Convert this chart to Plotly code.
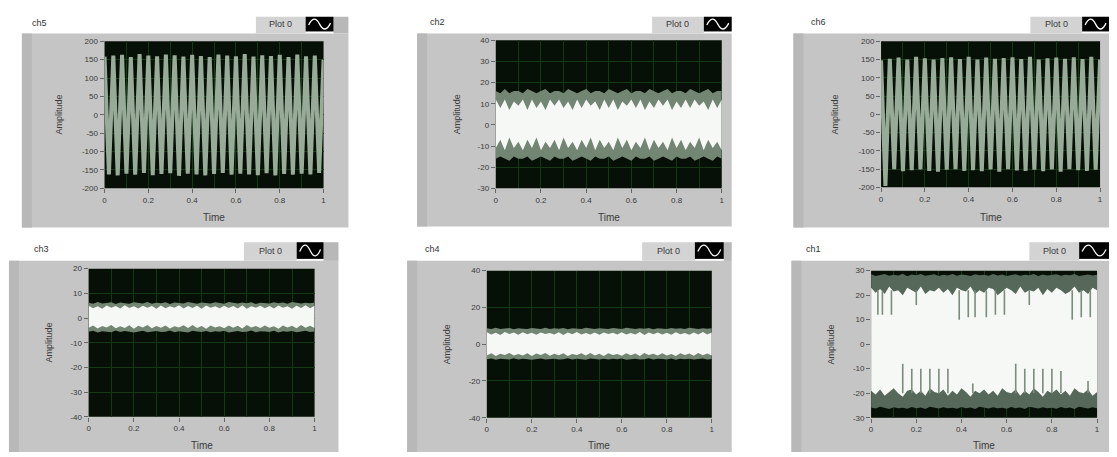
import numpy as np
import plotly.graph_objects as go

W, H = 1117, 457

# ---------------- data ----------------
PANEL_TITLES = ["ch5", "ch2", "ch6", "ch3", "ch4", "ch1"]
LEGEND_LABEL = "Plot 0"
X_TITLE = "Time"
Y_TITLE = "Amplitude"
TIME_TICKS = [0, 0.2, 0.4, 0.6, 0.8, 1]
TIME_TICK_LABELS = ["0", "0.2", "0.4", "0.6", "0.8", "1"]
TIME_MINOR = [0.1, 0.3, 0.5, 0.7, 0.9]

Y_TICKS_CH5 = [-200, -150, -100, -50, 0, 50, 100, 150, 200]
Y_TICKS_CH2 = [-30, -20, -10, 0, 10, 20, 30, 40]
Y_TICKS_CH6 = [-200, -150, -100, -50, 0, 50, 100, 150, 200]
Y_TICKS_CH3 = [-40, -30, -20, -10, 0, 10, 20]
Y_TICKS_CH4 = [-40, -20, 0, 20, 40]
Y_TICKS_CH1 = [-30, -20, -10, 0, 10, 20, 30]

# sample times of the read-off points (every 0.02 s)
T = [round(0.02 * i, 2) for i in range(51)]

# ch5 / ch6: successive peaks and troughs of the waveform
ch5_amp = [158, -162, 161, -165, 163, -160, 157, -163, 165, -158,
           161, -164, 159, -161, 164, -159, 162, -166, 158, -160,
           163, -162, 160, -165, 157, -161, 164, -158, 161, -163,
           159, -160, 165, -162, 158, -164, 162, -159, 160, -165,
           163, -161, 157, -163, 164, -160, 159, -162, 161, -158,
           150]
ch6_amp = [148, -196, 152, -150, 155, -156, 150, -153, 157, -151,
           153, -155, 150, -157, 154, -152, 156, -150, 151, -155,
           157, -153, 150, -156, 155, -151, 152, -157, 154, -150,
           156, -154, 151, -155, 157, -152, 150, -156, 153, -151,
           155, -157, 152, -150, 156, -153, 151, -155, 157, -152,
           150]

# ch2: dense band – white core edges and grey fringe edges
ch2_white_hi = [12, 8, 12, 7, 11, 9, 12, 7, 12, 8,
                11, 7, 12, 9, 12, 8, 11, 7, 12, 8,
                12, 9, 11, 7, 12, 8, 12, 7, 11, 9,
                12, 8, 12, 7, 11, 8, 12, 9, 12, 7,
                11, 8, 12, 8, 12, 9, 11, 7, 12, 8,
                12]
ch2_white_lo = [-11, -7, -12, -6, -11, -8, -12, -7, -11, -6,
                -12, -8, -11, -7, -12, -6, -11, -8, -12, -7,
                -11, -6, -12, -7, -11, -8, -12, -6, -11, -7,
                -12, -8, -11, -6, -12, -7, -11, -8, -12, -6,
                -11, -7, -12, -8, -11, -6, -12, -7, -11, -8,
                -12]
ch2_fringe_hi = [16, 15, 17, 15, 16, 16, 15, 17, 16, 15,
                 16, 17, 15, 16, 16, 15, 17, 16, 15, 16,
                 17, 15, 16, 16, 15, 17, 16, 15, 16, 17,
                 15, 16, 16, 15, 17, 16, 15, 16, 17, 15,
                 16, 16, 15, 17, 16, 15, 16, 17, 15, 16,
                 16]
ch2_fringe_lo = [-16, -15, -16, -17, -15, -16, -16, -15, -17, -16,
                 -15, -16, -17, -15, -16, -16, -15, -17, -16, -15,
                 -16, -17, -15, -16, -16, -15, -17, -16, -15, -16,
                 -17, -15, -16, -16, -15, -17, -16, -15, -16, -17,
                 -15, -16, -16, -15, -17, -16, -15, -16, -17, -15,
                 -16]

# ch3
ch3_white_hi = [5.0, 4.0, 4.8, 3.8, 5.1, 4.2, 4.9, 3.9, 5.2, 4.1,
                4.8, 3.9, 5.0, 4.2, 4.9, 3.8, 5.1, 4.0, 4.8, 4.2,
                5.2, 3.9, 4.9, 4.1, 5.0, 3.8, 5.1, 4.2, 4.8, 4.0,
                5.0, 4.1, 4.9, 3.9, 5.2, 3.8, 4.8, 4.2, 5.0, 4.0,
                4.9, 3.9, 5.1, 4.2, 4.8, 3.8, 5.0, 4.1, 5.2, 4.0,
                5.0]
ch3_white_lo = [-3.9, -3.0, -4.2, -3.2, -3.8, -2.8, -4.1, -3.3, -4.0, -2.9,
                -4.3, -3.1, -3.8, -2.8, -4.1, -3.2, -3.9, -3.0, -4.2, -3.3,
                -3.8, -2.9, -4.0, -2.8, -4.0, -3.2, -4.3, -3.0, -3.8, -3.3,
                -4.1, -3.0, -3.9, -3.1, -4.2, -2.8, -3.8, -3.2, -4.0, -3.0,
                -3.9, -3.3, -4.3, -3.0, -3.8, -3.1, -4.1, -2.8, -3.9, -3.1,
                -4.0]
ch3_fringe_hi = [6.2, 5.8, 6.5, 5.9, 6.1, 6.4, 5.7, 6.3, 6.0, 5.8,
                 6.4, 6.1, 5.9, 6.5, 5.8, 6.2, 6.0, 6.4, 5.7, 6.3,
                 6.1, 5.9, 6.5, 6.0, 5.8, 6.3, 6.2, 5.9, 6.4, 6.0,
                 5.8, 6.5, 6.1, 5.9, 6.3, 6.0, 6.4, 5.7, 6.2, 6.1,
                 5.9, 6.4, 6.0, 6.3, 5.8, 6.5, 6.1, 5.9, 6.2, 6.0,
                 6.3]
ch3_fringe_lo = [-5.6, -5.2, -5.9, -5.4, -5.5, -5.8, -5.1, -5.7, -5.3, -5.6,
                 -5.9, -5.4, -5.2, -5.8, -5.5, -5.3, -5.7, -5.6, -5.1, -5.8,
                 -5.4, -5.6, -5.9, -5.2, -5.5, -5.7, -5.3, -5.8, -5.4, -5.6,
                 -5.2, -5.9, -5.5, -5.3, -5.7, -5.6, -5.1, -5.8, -5.4, -5.5,
                 -5.7, -5.2, -5.9, -5.4, -5.6, -5.3, -5.8, -5.5, -5.2, -5.7,
                 -5.5]

# ch4
ch4_white_hi = [6.5, 5.3, 6.2, 5.0, 6.6, 5.5, 6.3, 5.1, 6.5, 5.4,
                6.2, 5.1, 6.4, 5.5, 6.1, 5.2, 6.5, 5.0, 6.3, 5.4,
                6.6, 5.2, 6.1, 5.3, 6.4, 5.1, 6.3, 5.5, 6.2, 5.2,
                6.5, 5.3, 6.1, 5.2, 6.6, 5.0, 6.3, 5.4, 6.4, 5.3,
                6.2, 5.1, 6.5, 5.4, 6.1, 5.1, 6.3, 5.3, 6.6, 5.2,
                6.4]
ch4_white_lo = [-6.1, -5.0, -6.4, -5.2, -5.9, -4.8, -6.2, -5.3, -6.1, -4.9,
                -6.5, -5.1, -5.9, -4.8, -6.3, -5.2, -6.0, -5.0, -6.4, -5.3,
                -5.9, -5.0, -6.2, -4.8, -6.1, -5.2, -6.5, -4.9, -5.9, -5.3,
                -6.3, -5.0, -6.0, -5.1, -6.4, -4.8, -5.9, -5.2, -6.2, -5.0,
                -6.1, -5.3, -6.5, -5.0, -5.9, -5.1, -6.3, -4.8, -6.0, -5.1,
                -6.2]
ch4_fringe_hi = [8.6, 8.2, 8.9, 8.3, 8.5, 8.8, 8.1, 8.7, 8.4, 8.2,
                 8.8, 8.5, 8.3, 8.9, 8.2, 8.6, 8.4, 8.8, 8.1, 8.7,
                 8.5, 8.3, 8.9, 8.4, 8.2, 8.7, 8.6, 8.3, 8.8, 8.4,
                 8.2, 8.9, 8.5, 8.3, 8.7, 8.4, 8.8, 8.1, 8.6, 8.5,
                 8.3, 8.8, 8.4, 8.7, 8.2, 8.9, 8.5, 8.3, 8.6, 8.4,
                 8.7]
ch4_fringe_lo = [-8.2, -7.8, -8.5, -8.0, -8.1, -8.4, -7.7, -8.3, -7.9, -8.2,
                 -8.5, -8.0, -7.8, -8.4, -8.1, -7.9, -8.3, -8.2, -7.7, -8.4,
                 -8.0, -8.2, -8.5, -7.8, -8.1, -8.3, -7.9, -8.4, -8.0, -8.2,
                 -7.8, -8.5, -8.1, -7.9, -8.3, -8.2, -7.7, -8.4, -8.0, -8.1,
                 -8.3, -7.8, -8.5, -8.0, -8.2, -7.9, -8.4, -8.1, -7.8, -8.3,
                 -8.1]

# ch1: outer noisy bands, white core, isolated spikes
ch1_outer_hi = [28.5, 27.8, 28.2, 28.6, 27.9, 28.3, 28.0, 28.7, 27.7, 28.4,
                28.1, 28.6, 27.9, 28.2, 28.5, 27.8, 28.3, 28.0, 28.6, 27.9,
                28.4, 28.2, 27.8, 28.5, 28.1, 28.3, 27.9, 28.6, 28.0, 28.4,
                27.8, 28.2, 28.5, 27.9, 28.3, 28.1, 28.6, 27.8, 28.4, 28.0,
                28.2, 28.5, 27.9, 28.3, 28.1, 28.6, 27.8, 28.2, 28.4, 28.0,
                28.3]
ch1_white_hi = [23, 21, 22.5, 20.5, 23.5, 21.5, 22, 20, 23, 22,
                21, 23.5, 20.5, 22, 21.5, 23, 21, 22.5, 20, 23,
                22, 21.5, 23.5, 20.5, 22, 21, 23, 22.5, 20, 21.5,
                23, 22, 20.5, 23.5, 21, 22, 21.5, 23, 20, 22.5,
                21, 23, 22, 20.5, 21.5, 23.5, 21, 22, 20.5, 23,
                22]
ch1_white_lo = [-19, -20.5, -18.5, -21, -19.5, -18, -20, -21.5, -19, -18.5,
                -20.5, -19, -21, -18, -19.5, -20, -18.5, -21, -19, -20.5,
                -18, -19.5, -21.5, -19, -20, -18.5, -20.5, -19, -21, -18,
                -19.5, -20, -18.5, -21, -19, -20.5, -18, -19.5, -21.5, -19,
                -20, -18.5, -20.5, -19, -21, -18, -19.5, -20, -18.5, -21,
                -19.5]
ch1_outer_lo = [-25.8, -26.3, -25.5, -26.0, -26.5, -25.7, -26.2, -25.9, -26.4, -25.6,
                -26.1, -25.8, -26.5, -25.5, -26.0, -26.3, -25.7, -26.2, -25.9, -26.4,
                -25.6, -26.1, -25.8, -26.5, -25.5, -26.0, -26.3, -25.7, -26.2, -25.9,
                -26.4, -25.6, -26.1, -25.8, -26.5, -25.5, -26.0, -26.3, -25.7, -26.2,
                -25.9, -26.4, -25.6, -26.1, -25.8, -26.5, -25.5, -26.0, -26.3, -25.7,
                -26.1]
ch1_spike_dn_t = [0.03, 0.05, 0.09, 0.20, 0.39, 0.43, 0.46, 0.51, 0.55, 0.59, 0.70, 0.89, 0.93, 0.97]
ch1_spike_dn_tip = [12, 12, 12, 16, 10, 11, 11, 11, 12, 12, 16, 10, 11, 11]
ch1_spike_up_t = [0.14, 0.18, 0.22, 0.26, 0.30, 0.34, 0.45, 0.64, 0.68, 0.72, 0.76, 0.80, 0.84, 0.96]
ch1_spike_up_tip = [-8, -10, -10, -10, -10, -10, -16, -8, -10, -10, -10, -10, -11, -15]

for arr in [ch5_amp, ch6_amp, ch2_white_hi, ch2_white_lo, ch2_fringe_hi, ch2_fringe_lo,
            ch3_white_hi, ch3_white_lo, ch3_fringe_hi, ch3_fringe_lo,
            ch4_white_hi, ch4_white_lo, ch4_fringe_hi, ch4_fringe_lo,
            ch1_outer_hi, ch1_white_hi, ch1_white_lo, ch1_outer_lo]:
    assert len(arr) == len(T)

# ---------------- layout geometry (pixels) ----------------
PANELS = [
    dict(frame=(20, 30, 348, 228), plot=(103, 38, 323, 188), title=(28, 19), legend=(255, 305, 333, 13, 28), amp_x=57, time_y=218, yt=Y_TICKS_CH5),
    dict(frame=(417, 30, 733, 227), plot=(496, 37, 723, 188), title=(428, 18), legend=(653, 705, 733, 13, 28), amp_x=457, time_y=218, yt=Y_TICKS_CH2),
    dict(frame=(795, 30, 1112, 228), plot=(883, 38, 1103, 187), title=(811, 18), legend=(1033, 1085, 1112, 13, 28), amp_x=837, time_y=218, yt=Y_TICKS_CH6),
    dict(frame=(7, 262, 338, 457), plot=(87, 270, 314, 421), title=(30, 250), legend=(243, 296, 323, 243, 260), amp_x=47, time_y=450, yt=Y_TICKS_CH3),
    dict(frame=(407, 262, 733, 457), plot=(487, 272, 713, 422), title=(423, 250), legend=(643, 696, 725, 243, 260), amp_x=447, time_y=450, yt=Y_TICKS_CH4),
    dict(frame=(793, 262, 1112, 457), plot=(873, 272, 1100, 422), title=(806, 250), legend=(1032, 1082, 1112, 243, 260), amp_x=833, time_y=450, yt=Y_TICKS_CH1),
]

FRAME = "#c5c5c5"
FRAME_DARK = "#b8b8b8"
LEG_BOX = "#d3d3d3"
PLOT_BG = "#061006"
GRID = "#153815"
LINE_LIGHT = "#98ab98"
FRINGE = "#738573"
CORE = "#f6f8f6"
TEXT = "#3a3a3a"
FONT = "Liberation Sans"


def X(px):
    return px / W


def Y(py):
    return 1 - py / H


fig = go.Figure()


def ax(k):
    return dict(xaxis="x" if k == 1 else f"x{k}", yaxis="y" if k == 1 else f"y{k}")


def band(k, hi, lo, color):
    fig.add_trace(go.Scatter(x=list(T) + list(T[::-1]), y=list(hi) + list(lo[::-1]),
                             fill="toself", fillcolor=color, mode="lines",
                             line=dict(width=0, color=color), hoverinfo="skip",
                             showlegend=False, **ax(k)))


def wave(k, vals, color, width):
    fig.add_trace(go.Scatter(x=T, y=vals, mode="lines", line=dict(color=color, width=width),
                             hoverinfo="skip", showlegend=False, **ax(k)))


def spikes(k, ts, base, tips, color):
    xs, ys = [], []
    for t, tip in zip(ts, tips):
        xs += [t, t, None]
        ys += [base, tip, None]
    fig.add_trace(go.Scatter(x=xs, y=ys, mode="lines", line=dict(color=color, width=1.6),
                             hoverinfo="skip", showlegend=False, **ax(k)))


# panel 1: ch5
wave(1, ch5_amp, LINE_LIGHT, 4.0)
# panel 2: ch2
band(2, ch2_fringe_hi, ch2_fringe_lo, FRINGE)
band(2, ch2_white_hi, ch2_white_lo, CORE)
# panel 3: ch6
wave(3, ch6_amp, LINE_LIGHT, 4.0)
# panel 4: ch3
band(4, ch3_fringe_hi, ch3_fringe_lo, FRINGE)
band(4, ch3_white_hi, ch3_white_lo, CORE)
# panel 5: ch4
band(5, ch4_fringe_hi, ch4_fringe_lo, FRINGE)
band(5, ch4_white_hi, ch4_white_lo, CORE)
# panel 6: ch1
band(6, ch1_outer_hi, ch1_outer_lo, "#56685a")
band(6, ch1_white_hi, ch1_white_lo, CORE)
spikes(6, ch1_spike_dn_t, 22, ch1_spike_dn_tip, "#7a8c7a")
spikes(6, ch1_spike_up_t, -20, ch1_spike_up_tip, "#7a8c7a")

shapes = []
annotations = []
layout_axes = {}
for i, p in enumerate(PANELS):
    k = i + 1
    fx0, fy0, fx1, fy1 = p["frame"]
    px0, py0, px1, py1 = p["plot"]
    lx0, lx1, lx2, ly0, ly1 = p["legend"]
    # frame
    shapes.append(dict(type="rect", xref="paper", yref="paper", x0=X(fx0), x1=X(fx1), y0=Y(fy1), y1=Y(fy0),
                       fillcolor=FRAME, line=dict(width=0), layer="below"))
    shapes.append(dict(type="rect", xref="paper", yref="paper", x0=X(fx0), x1=X(fx0 + 10), y0=Y(fy1), y1=Y(fy0),
                       fillcolor=FRAME_DARK, line=dict(width=0), layer="below"))
    # strip right of legend
    shapes.append(dict(type="rect", xref="paper", yref="paper", x0=X(lx2), x1=X(fx1), y0=Y(fy0), y1=Y(ly0),
                       fillcolor=FRAME_DARK, line=dict(width=0), layer="below"))
    # plot area background (drawn after the frame)
    shapes.append(dict(type="rect", xref="paper", yref="paper", x0=X(px0), x1=X(px1), y0=Y(py1), y1=Y(py0),
                       fillcolor=PLOT_BG, line=dict(width=0), layer="below"))
    # legend label box and icon
    shapes.append(dict(type="rect", xref="paper", yref="paper", x0=X(lx0), x1=X(lx1), y0=Y(fy0), y1=Y(ly0),
                       fillcolor=LEG_BOX, line=dict(width=0), layer="below"))
    shapes.append(dict(type="rect", xref="paper", yref="paper", x0=X(lx1), x1=X(lx2), y0=Y(ly1), y1=Y(ly0),
                       fillcolor="#000000", line=dict(width=0), layer="above"))
    ym = (ly0 + ly1) / 2
    a = lx1 + 3
    b = lx2 - 3
    q = (b - a) / 4
    path = (f"M {X(a)},{Y(ym + 1)} Q {X(a + q)},{Y(ly0 - 3)} {X(a + 2 * q)},{Y(ym)} "
            f"Q {X(a + 3 * q)},{Y(ly1 + 3)} {X(b)},{Y(ym - 1)}")
    shapes.append(dict(type="path", xref="paper", yref="paper", path=path,
                       line=dict(color="#ffffff", width=1.3), layer="above"))
    annotations.append(dict(text=LEGEND_LABEL, x=X((lx0 + lx1) / 2), y=Y(ym), xref="paper", yref="paper",
                            showarrow=False, xanchor="center", yanchor="middle",
                            font=dict(family=FONT, size=9, color=TEXT)))
    # title
    tx, ty = p["title"]
    annotations.append(dict(text=PANEL_TITLES[i], x=X(tx), y=Y(ty), xref="paper", yref="paper",
                            showarrow=False, xanchor="left", yanchor="middle",
                            font=dict(family=FONT, size=9, color="#333333")))
    # axis titles
    annotations.append(dict(text=Y_TITLE, x=X(p["amp_x"]), y=Y((py0 + py1) / 2), xref="paper", yref="paper",
                            showarrow=False, textangle=-90, xanchor="center", yanchor="middle",
                            font=dict(family=FONT, size=9, color=TEXT)))
    annotations.append(dict(text=X_TITLE, x=X((px0 + px1) / 2), y=Y(p["time_y"]), xref="paper", yref="paper",
                            showarrow=False, xanchor="center", yanchor="middle",
                            font=dict(family=FONT, size=10, color=TEXT)))
    yt = p["yt"]
    xname = "xaxis" if k == 1 else f"xaxis{k}"
    yname = "yaxis" if k == 1 else f"yaxis{k}"
    layout_axes[xname] = dict(domain=[X(px0), X(px1)], range=[0, 1], anchor="y" if k == 1 else f"y{k}",
                              tickmode="array", tickvals=TIME_TICKS, ticktext=TIME_TICK_LABELS,
                              ticks="outside", ticklen=4, tickcolor="#666666", tickwidth=1,
                              showgrid=True, gridcolor=GRID, gridwidth=1, zeroline=False,
                              showline=False, fixedrange=True,
                              minor=dict(tickmode="array", tickvals=TIME_MINOR, showgrid=True,
                                         gridcolor=GRID, ticks=""),
                              tickfont=dict(family=FONT, size=8, color=TEXT))
    layout_axes[yname] = dict(domain=[Y(py1), Y(py0)], range=[yt[0], yt[-1]], anchor="x" if k == 1 else f"x{k}",
                              tickmode="array", tickvals=yt, ticktext=[str(v) for v in yt],
                              ticks="outside", ticklen=4, tickcolor="#666666", tickwidth=1,
                              showgrid=True, gridcolor=GRID, gridwidth=1, zeroline=False,
                              showline=False, fixedrange=True,
                              tickfont=dict(family=FONT, size=8, color=TEXT))

fig.update_layout(width=W, height=H, margin=dict(l=0, r=0, t=0, b=0),
                  paper_bgcolor="#ffffff", plot_bgcolor="rgba(0,0,0,0)",
                  shapes=shapes, annotations=annotations, showlegend=False,
                  **layout_axes)

fig.write_html("out.html", config={"displayModeBar": False},
               post_script="document.body.style.margin='0';document.body.style.overflow='hidden';")
